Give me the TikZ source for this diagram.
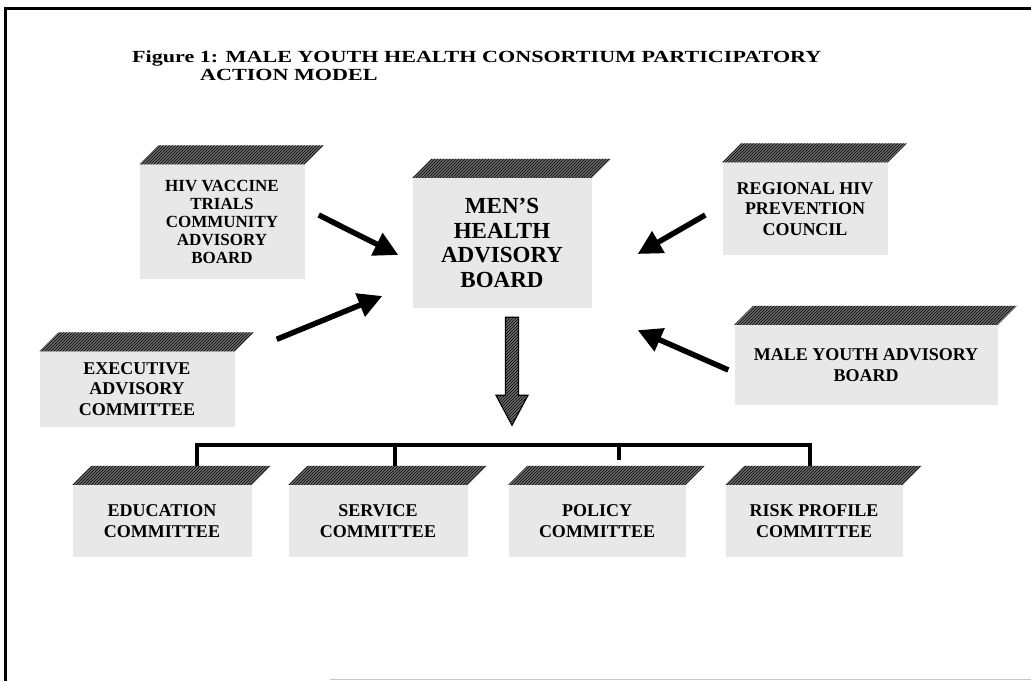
\documentclass[tikz,border=0pt]{standalone}
\usepackage{fontspec}
\setmainfont{Liberation Serif}
\newfontfamily\widefont[FakeStretch=1.3]{Liberation Serif}
\usetikzlibrary{arrows.meta,positioning,calc,patterns}
\definecolor{frontgray}{HTML}{E8E8E8}
\definecolor{topgray}{HTML}{6E6E6E}

\tikzset{
  cube/.style={fill=frontgray, inner sep=0pt, align=center,
    font=\bfseries\fontsize{18}{20.5}\selectfont},
  tightcube/.style={cube, font=\bfseries\fontsize{17}{18}\selectfont},
  bigcube/.style={cube, font=\bfseries\fontsize{23}{24.5}\selectfont},
  feed/.style={line width=5.5pt, -{Triangle[length=24pt,width=24pt]}},
  bus/.style={line width=4pt},
  hatch/.style={fill=topgray, postaction={pattern=north east lines, pattern color=black}},
  headline/.style={anchor=base west, font=\widefont\bfseries\fontsize{17}{19}\selectfont, inner sep=0pt},
}

\begin{document}
\begin{tikzpicture}[x=1pt,y=1pt]
  \useasboundingbox (0,0) rectangle (1031,681);
  % frame
  \draw[line width=3pt] (1031,672) -- (5,672) -- (5,0);
  \draw[gray!45, line width=1pt] (330,2) -- (1031,2);

  % title
  \node[headline] (title1) at (132,618) {Figure 1: MALE YOUTH HEALTH CONSORTIUM PARTICIPATORY};
  \node[headline] (title2) at (200,600) {ACTION MODEL};

  % boards
  \node[bigcube, minimum width=179pt, minimum height=130pt] (mens) at (502,438)
    {MEN'S\\HEALTH\\ADVISORY\\BOARD};
  \node[tightcube, minimum width=165pt, minimum height=115pt] (hiv) at (222,459)
    {HIV VACCINE\\TRIALS\\COMMUNITY\\ADVISORY\\BOARD};
  \node[cube, minimum width=165pt, minimum height=93pt] (regional) at (805,472)
    {REGIONAL HIV\\PREVENTION\\COUNCIL};
  \node[cube, minimum width=195pt, minimum height=75pt] (exec) at (137,292)
    {EXECUTIVE\\ADVISORY\\COMMITTEE};
  \node[cube, minimum width=263pt, minimum height=80pt] (youth) at (866,316)
    {MALE YOUTH ADVISORY\\BOARD};

  % committees
  \node[cube, minimum width=179pt, minimum height=72pt] (edu) at (162,160)
    {EDUCATION\\COMMITTEE};
  \node[cube, minimum width=179pt, minimum height=72pt] (serv) at (378,160)
    {SERVICE\\COMMITTEE};
  \node[cube, minimum width=177pt, minimum height=72pt] (pol) at (597,160)
    {POLICY\\COMMITTEE};
  \node[cube, minimum width=177pt, minimum height=72pt] (risk) at (814,160)
    {RISK PROFILE\\COMMITTEE};

  % slanted tops
  \foreach \n in {mens,hiv,regional,exec,youth,edu,serv,pol,risk}
    \path[hatch] (\n.north west) -- ++(19,19) -- ([shift={(19,19)}]\n.north east)
      -- (\n.north east) -- cycle;

  % arrows into the board
  \draw[feed] ([shift={(14,7)}]hiv.east) -- ([shift={(-14,-12)}]mens.west);
  \draw[feed] ([shift={(42,12)}]exec.north east) -- ([shift={(-30,-53)}]mens.west);
  \draw[feed] ([shift={(-17,-6)}]regional.west) -- ([shift={(46,-11)}]mens.east);
  \draw[feed] ([shift={(-6,-5)}]youth.west) -- ([shift={(46,-22)}]mens.south east);

  % down arrow
  \coordinate (downtop) at ([shift={(10,-9)}]mens.south);
  \coordinate (downtip) at ([yshift=-108pt]downtop);
  \draw[hatch, line width=1.2pt, line join=miter] ($(downtop)+(-6.5,0)$) -- ($(downtip)+(-6.5,30)$)
    -- ($(downtip)+(-16,30)$) -- (downtip) -- ($(downtip)+(16,30)$)
    -- ($(downtip)+(6.5,30)$) -- ($(downtop)+(6.5,0)$) -- cycle;

  % committee bus
  \draw[bus] ([shift={(35,19)}]edu.north) -- ++(0,21) -| ([shift={(-4,19)}]risk.north);
  \draw[bus] ([shift={(17,19)}]serv.north) -- ++(0,21);
  \draw[bus] ([shift={(22,40)}]pol.north) -- ++(0,-15);
\end{tikzpicture}
\end{document}
